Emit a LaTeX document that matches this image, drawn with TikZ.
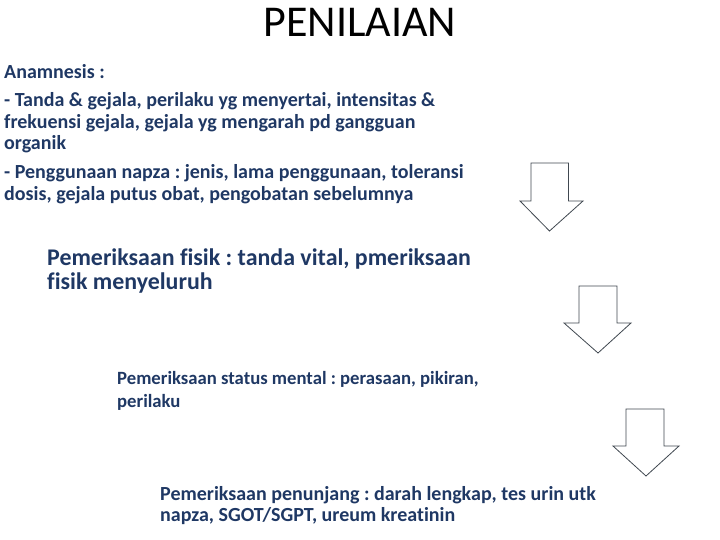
\documentclass[tikz,border=0pt]{standalone}
\usepackage{fontspec}
\setmainfont[Ligatures=NoCommon]{Carlito}
\frenchspacing
\definecolor{navy}{RGB}{31,56,100}
\definecolor{arrowgray}{RGB}{64,72,80}
\begin{document}
\begin{tikzpicture}[x=1pt,y=-1pt,
  body/.style={anchor=base west,inner sep=0pt,text=navy,font=\fontsize{20}{24}\selectfont\bfseries},
  bodyc/.style={anchor=base west,inner sep=0pt,text=navy,font=\fontsize{18.7}{23}\selectfont\bfseries},
  bodyd/.style={anchor=base west,inner sep=0pt,text=navy,font=\fontsize{20}{24}\selectfont\bfseries},
  bodybig/.style={anchor=base west,inner sep=0pt,text=navy,font=\fontsize{23.9}{28}\selectfont\bfseries},
  titletext/.style={anchor=base,inner sep=0pt,text=black,font=\fontsize{44}{50}\selectfont},
  downarrow/.style={draw=arrowgray,line width=0.8pt,fill=white,line join=miter}]
\useasboundingbox (0,0) rectangle (720,540);
\node[titletext] (title) at (360,36.7) {PENILAIAN};
\node[body] (a0) at (4,79) {Anamnesis :};
\node[body] (a1) at (4,106.7) {- Tanda \& gejala, perilaku yg menyertai, intensitas \&};
\node[body] (a2) at (4,128.3) {frekuensi gejala, gejala yg mengarah pd gangguan};
\node[body] (a3) at (4,149.3) {organik};
\node[body] (a4) at (4,179) {- Penggunaan napza : jenis, lama penggunaan, toleransi};
\node[body] (a5) at (4,200.7) {dosis, gejala putus obat, pengobatan sebelumnya};
\node[bodybig] (b1) at (47,265) {Pemeriksaan fisik : tanda vital, pmeriksaan};
\node[bodybig] (b2) at (47,289) {fisik menyeluruh};
\node[bodyc] (c1) at (117,384.3) {Pemeriksaan status mental : perasaan, pikiran,};
\node[bodyc] (c2) at (117,407.7) {perilaku};
\node[bodyd] (d1) at (160,500) {Pemeriksaan penunjang : darah lengkap, tes urin utk};
\node[bodyd] (d2) at (160,521.7) {napza, SGOT/SGPT, ureum kreatinin};
\draw[downarrow] (531,163) -- (568.5,163) -- (568.5,201) -- (583,201) -- (549.5,231) -- (520,201) -- (531,201) -- cycle;
\draw[downarrow] (579,286) -- (617,286) -- (617,323) -- (631,323) -- (598,353) -- (564,323) -- (579,323) -- cycle;
\draw[downarrow] (626,409) -- (664,409) -- (664,446) -- (679,446) -- (646,476) -- (613,446) -- (626,446) -- cycle;
\end{tikzpicture}
\end{document}
